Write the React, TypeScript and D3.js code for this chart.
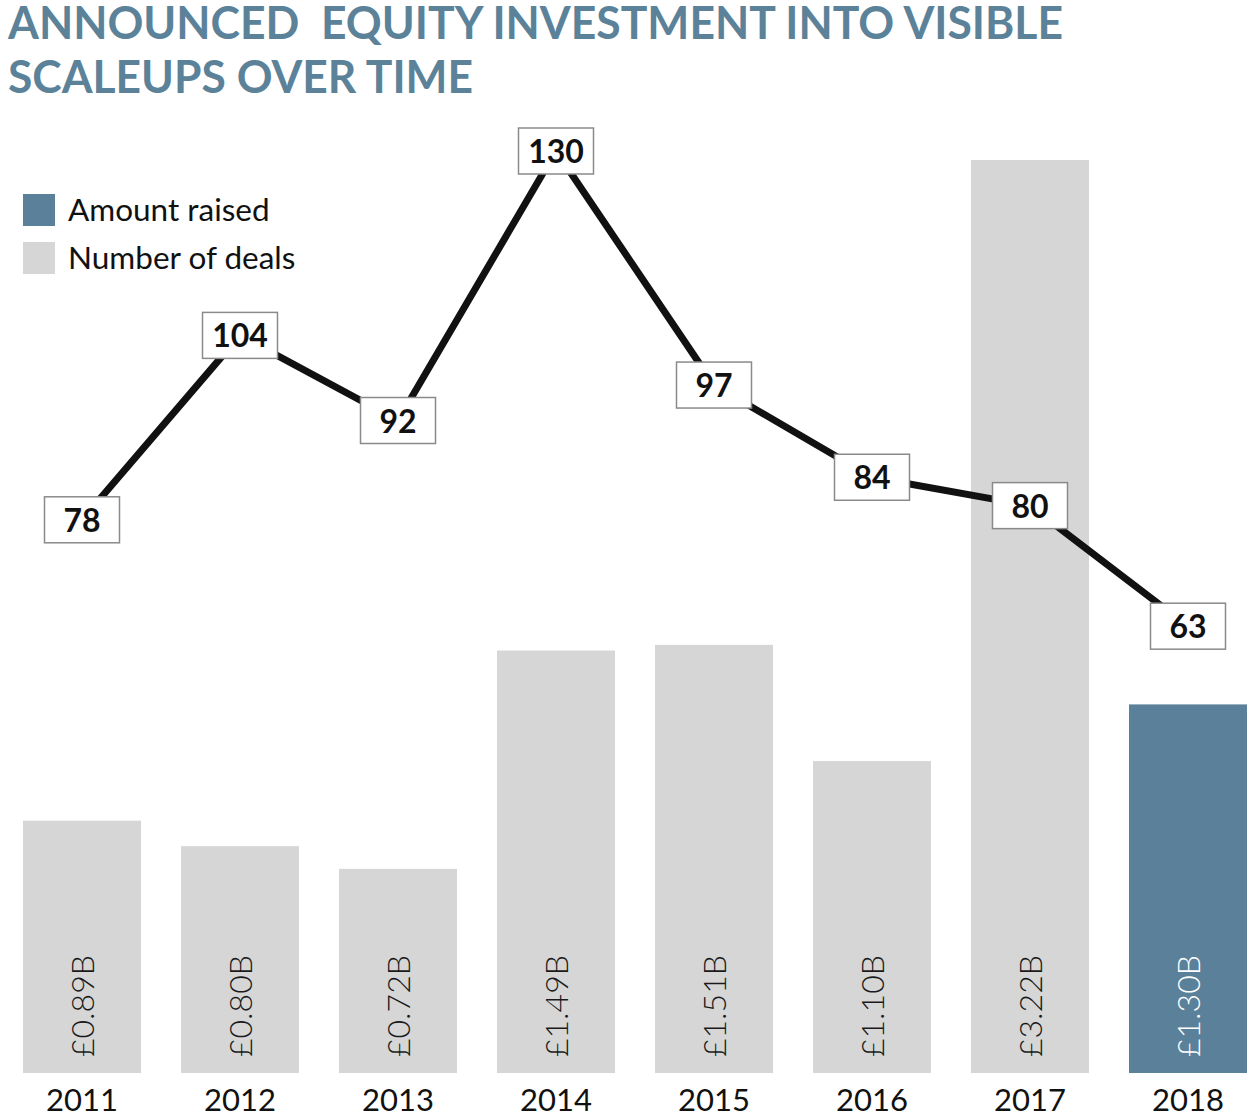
import React from "react";
import * as d3 from "d3";

const years = ["2011", "2012", "2013", "2014", "2015", "2016", "2017", "2018"];
const amounts = [0.89, 0.8, 0.72, 1.49, 1.51, 1.1, 3.22, 1.3];
const amountLabels = ["£0.89B", "£0.80B", "£0.72B", "£1.49B", "£1.51B", "£1.10B", "£3.22B", "£1.30B"];
const deals = [78, 104, 92, 130, 97, 84, 80, 63];
const titleLines = ["ANNOUNCED  EQUITY INVESTMENT INTO VISIBLE", "SCALEUPS OVER TIME"];
const legendItems = [
  { label: "Amount raised", color: "#5a8199" },
  { label: "Number of deals", color: "#d6d6d6" },
];

const W = 1256;
const H = 1120;
const BLUE = "#5a8199";
const GRAY = "#d6d6d6";
const FONT = "Lato, 'Open Sans', sans-serif";

export default function App() {
  const x = d3.scaleBand<string>().domain(years).range([23, 1247]).paddingInner(40 / 158).paddingOuter(0);
  const bottom = 1073;
  const yBar = d3.scaleLinear().domain([0, 3.22]).range([bottom, 160]);
  const yLine = d3.scaleLinear().domain([0, 130]).range([bottom, 151]);
  const cx = (y: string) => (x(y) as number) + x.bandwidth() / 2;

  const line = d3
    .line<number>()
    .x((_, i) => cx(years[i]))
    .y((d) => yLine(d));

  const boxW = 75;
  const boxH = 46;

  return (
    <div style={{ position: "absolute", left: 0, top: 0, width: W, height: H, background: "#fff" }}>
      <svg width={W} height={H} viewBox={`0 0 ${W} ${H}`} style={{ display: "block" }}>
        <rect x={0} y={0} width={W} height={H} fill="#fff" />
        {/* Title */}
        <text x={8} y={39} fill="#5b8299" fontFamily={FONT} fontWeight={700} fontSize={45} textLength={1055} lengthAdjust="spacingAndGlyphs" style={{ whiteSpace: "pre" }}>
          {titleLines[0]}
        </text>
        <text x={8} y={93} fill="#5b8299" fontFamily={FONT} fontWeight={700} fontSize={45} textLength={465} lengthAdjust="spacingAndGlyphs">
          {titleLines[1]}
        </text>

        {/* Legend */}
        {legendItems.map((it, i) => (
          <g key={it.label} transform={`translate(23, ${194 + i * 48})`}>
            <rect x={0} y={0} width={32} height={32} fill={it.color} />
            <text x={45} y={27} fontFamily={FONT} fontWeight={400} fontSize={31.5} fill="#111">
              {it.label}
            </text>
          </g>
        ))}

        {/* Bars */}
        {years.map((yr, i) => (
          <rect
            key={yr}
            x={x(yr)}
            y={yBar(amounts[i])}
            width={x.bandwidth()}
            height={bottom - yBar(amounts[i])}
            fill={i === years.length - 1 ? BLUE : GRAY}
          />
        ))}

        {/* Bar value labels */}
        {years.map((yr, i) => (
          <text
            key={"l" + yr}
            transform={`translate(${cx(yr) + 12}, 1057) rotate(-90)`}
            fontFamily={FONT}
            fontWeight={300}
            fontSize={32}
            fill={i === years.length - 1 ? "#fff" : "#1a1a1a"}
          >
            {amountLabels[i]}
          </text>
        ))}

        {/* Year labels */}
        {years.map((yr) => (
          <text key={"y" + yr} x={cx(yr)} y={1111} textAnchor="middle" fontFamily={FONT} fontWeight={400} fontSize={31} fill="#111">
            {yr}
          </text>
        ))}

        {/* Line */}
        <path d={line(deals) || ""} fill="none" stroke="#111" strokeWidth={7} strokeLinejoin="round" />

        {/* Line labels */}
        {deals.map((v, i) => (
          <g key={"d" + i} transform={`translate(${cx(years[i])}, ${yLine(v)})`}>
            <rect x={-boxW / 2} y={-boxH / 2} width={boxW} height={boxH} fill="#fff" stroke="#8a8a8a" strokeWidth={1.5} />
            <text x={0} y={12} textAnchor="middle" fontFamily={FONT} fontWeight={700} fontSize={32} fill="#111">
              {v}
            </text>
          </g>
        ))}
      </svg>
    </div>
  );
}
